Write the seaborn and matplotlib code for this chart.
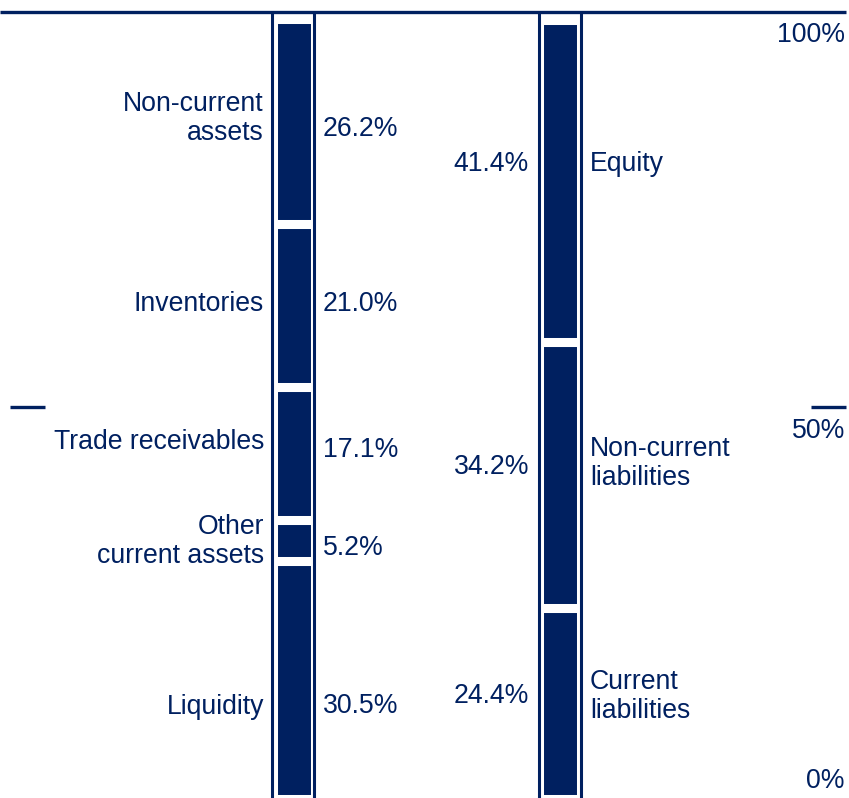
import pandas as pd
import matplotlib
matplotlib.use("Agg")
import matplotlib.pyplot as plt
import seaborn as sns

# balance sheet structure, bottom to top
asset_names = ["Liquidity", "Other\ncurrent assets", "Trade receivables", "Inventories", "Non-current\nassets"]
asset_values = [30.5, 5.2, 17.1, 21.0, 26.2]
liab_names = ["Current\nliabilities", "Non-current\nliabilities", "Equity"]
liab_values = [24.4, 34.2, 41.4]
scale_labels = ["100%", "50%", "0%"]

NAVY = "#002060"

sns.set_theme(style="white")
plt.rcParams["font.family"] = ["Liberation Sans", "DejaVu Sans"]

fig = plt.figure(figsize=(8.49, 7.98), dpi=100)
ax = fig.add_axes([0, 0, 1, 1])
ax.set_xlim(0, 849)
# 1% = 7.79 px, 0% sits just under the bottom edge
px = 7.79
ax.set_ylim(0.5 / px, 798.5 / px)
ax.axis("off")

assets = pd.DataFrame({"name": asset_names, "value": asset_values})
assets["bottom"] = assets["value"].cumsum() - assets["value"]
liabs = pd.DataFrame({"name": liab_names, "value": liab_values})
liabs["bottom"] = liabs["value"].cumsum() - liabs["value"]

left_x, right_x, bar_w = 294.5, 560.5, 42
ax.bar([left_x] * len(assets), assets["value"], bottom=assets["bottom"], width=bar_w,
       color=NAVY, edgecolor="white", linewidth=6.5, zorder=2)
ax.bar([right_x] * len(liabs), liabs["value"], bottom=liabs["bottom"], width=bar_w,
       color=NAVY, edgecolor="white", linewidth=6.5, zorder=2)

# frame lines
top = 101.0
for xv in [left_x - 22, left_x + 20, right_x - 21, right_x + 21]:
    ax.plot([xv, xv], [-1, top], color=NAVY, lw=2.2, zorder=3, solid_capstyle="butt")
ax.plot([0, 846], [top, top], color=NAVY, lw=2.4, zorder=3, solid_capstyle="butt")
ax.plot([10, 45], [50.3, 50.3], color=NAVY, lw=2.4, solid_capstyle="butt")
ax.plot([811, 846], [50.3, 50.3], color=NAVY, lw=2.4, solid_capstyle="butt")

fs = 19.2
txt = dict(color=NAVY, fontsize=fs, va="center", linespacing=1.15)

# label heights (percent) as placed in the original
asset_name_y = [11.8, 33.0, 45.8, 63.5, 87.3]
asset_val_y = [11.9, 32.2, 44.8, 63.5, 86.0]
liab_name_y = [13.1, 43.0, 81.4]
liab_val_y = [13.1, 42.5, 81.4]

for name, val, ny, vy in zip(assets["name"], assets["value"], asset_name_y, asset_val_y):
    ax.text(264, ny, name, ha="right", multialignment="right", **txt)
    ax.text(323, vy, f"{val:.1f}%", ha="left", **txt)

for name, val, ny, vy in zip(liabs["name"], liabs["value"], liab_name_y, liab_val_y):
    ax.text(590, ny, name, ha="left", multialignment="left", **txt)
    ax.text(529, vy, f"{val:.1f}%", ha="right", **txt)

for lab, yv in zip(scale_labels, [98.0, 47.2, 2.3]):
    ax.text(845, yv, lab, ha="right", **txt)

fig.savefig("out.png", dpi=100)
